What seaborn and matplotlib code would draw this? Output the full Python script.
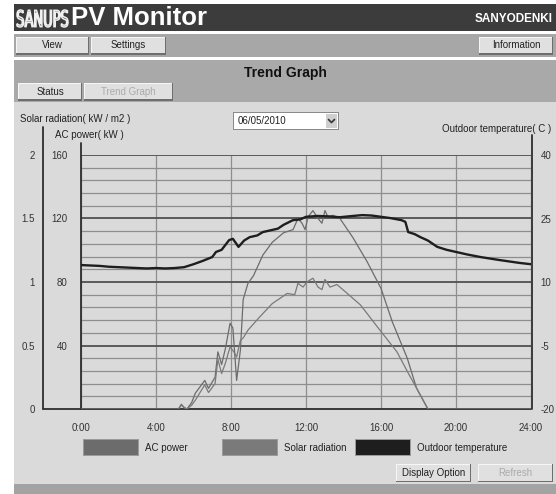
import numpy as np
import seaborn as sns
import matplotlib.pyplot as plt
from matplotlib.patches import Rectangle, PathPatch
from matplotlib.lines import Line2D
from matplotlib.textpath import TextPath
from matplotlib.font_manager import FontProperties
from matplotlib.transforms import Affine2D, IdentityTransform

W, H = 556, 494

# ---- data ----
ac_hours = [0, 5.2, 5.35, 5.5, 5.65, 5.9, 6.1, 6.35, 6.6, 6.8, 7.0, 7.15, 7.3, 7.5, 7.7,
            7.95, 8.1, 8.3, 8.5, 8.65, 8.9, 9.2, 9.7, 10.2, 10.8, 11.31, 11.57, 11.79,
            11.95, 12.11, 12.37, 12.64, 12.85, 13.01, 13.17, 13.44, 13.81, 14.5, 15.25,
            16.0, 16.6, 17.4, 17.9, 18.5, 24]
ac_kw = [0, 0, 3, 1, 0, 4, 10, 14, 18, 13, 17, 20, 36, 28, 38,
         54, 51, 18, 37, 69, 79, 84, 97, 105, 111, 113, 120, 117,
         113, 121, 125, 120, 117, 125, 121, 122, 120, 108, 93,
         76, 55, 32, 13, 0, 0]

solar_hours = [0, 5.2, 5.35, 5.5, 5.65, 5.9, 6.1, 6.35, 6.6, 6.8, 7.0, 7.15, 7.3, 7.5,
               7.7, 7.95, 8.15, 8.3, 8.5, 8.65, 8.9, 9.5, 10.2, 11.0, 11.4, 11.57, 11.84,
               12.05, 12.37, 12.64, 12.85, 13.01, 13.28, 13.65, 14.2, 14.9, 16.0, 16.85,
               17.5, 18.1, 18.5, 24]
solar_kw = [0, 0, 0.03, 0.01, 0, 0.03, 0.07, 0.13, 0.19, 0.13, 0.17, 0.2, 0.39, 0.28,
            0.36, 0.49, 0.45, 0.41, 0.54, 0.56, 0.62, 0.72, 0.83, 0.91, 0.9, 0.99, 0.96,
            1.0, 1.03, 0.96, 0.94, 1.02, 0.96, 0.98, 0.91, 0.82, 0.61, 0.45,
            0.27, 0.11, 0, 0]

temp_hours = [0, 0.5, 1, 1.5, 2, 2.5, 3, 3.5, 4, 4.5, 5, 5.5, 6, 6.5, 7, 7.2, 7.5, 7.9,
              8.1, 8.4, 8.7, 9, 9.4, 9.7, 10.2, 10.5, 10.8, 11.3, 11.7, 12, 12.6, 13.2,
              13.8, 14.5, 15, 15.5, 16, 16.5, 17.1, 17.3, 17.45, 17.8, 18.1, 18.5, 19,
              19.5, 20, 20.6, 21.3, 22.3, 23.4, 24]
temp_c = [14.0, 13.9, 13.8, 13.6, 13.5, 13.4, 13.3, 13.2, 13.3, 13.2, 13.3, 13.5, 14.2,
          15.0, 15.9, 17.1, 17.6, 19.9, 20.2, 18.3, 19.8, 20.6, 21.0, 21.8, 22.3, 22.6,
          23.5, 24.6, 24.8, 25.4, 25.6, 25.5, 25.3, 25.6, 25.8, 25.7, 25.4, 25.1, 24.6,
          24.2, 21.8, 21.3, 20.6, 19.8, 18.3, 17.6, 17.1, 16.5, 15.9, 15.2, 14.5, 14.2]

x_ticks = [0, 4, 8, 12, 16, 20, 24]
x_labels = ["0:00", "4:00", "8:00", "12:00", "16:00", "20:00", "24:00"]
ac_ticks = [40, 80, 120, 160]
solar_ticks = [0, 0.5, 1, 1.5, 2]
solar_labels = ["0", "0.5", "1", "1.5", "2"]
temp_ticks = [-20, -5, 10, 25, 40]
temp_labels = ["-20", "-5", "10", "25", "40"]

series_names = ["AC power", "Solar radiation", "Outdoor temperature"]
series_colors = ["#6c6c6c", "#7a7a7a", "#1e1e1e"]

sns.set_theme(style="white")
plt.rcParams["font.family"] = ["Liberation Sans", "DejaVu Sans"]
plt.rcParams["axes.unicode_minus"] = False

fig = plt.figure(figsize=(W / 100, H / 100), dpi=100)
fig.patch.set_facecolor("white")


def box(x0, y0, x1, y1, color, z=-5):
    fig.add_artist(Rectangle((x0 / W, 1 - y1 / H), (x1 - x0) / W, (y1 - y0) / H,
                             transform=fig.transFigure, facecolor=color,
                             edgecolor="none", zorder=z))


def txt(x, y, s, **kw):
    kw.setdefault("fontsize", 7)
    kw.setdefault("color", "#222222")
    fig.text(x / W, 1 - y / H, s, **kw)


def button(x0, y0, x1, y1, label, enabled=True):
    box(x0, y0, x1, y1, "#6e6e6e", z=-4)
    box(x0, y0, x1 - 1.5, y1 - 1.5, "#f6f6f6", z=-3)
    box(x0 + 1, y0 + 1, x1 - 1.5, y1 - 1.5, "#e0e0e0", z=-2)
    txt((x0 + x1) / 2, (y0 + y1) / 2 - 0.5, label, ha="center", va="center",
        color="#222222" if enabled else "#ababab")


# ---- page chrome ----
box(14, 4, 556, 31, "#3c3c3c")
box(14, 34, 556, 57, "#a7a7a7")
box(14, 60, 556, 102, "#a9a9a9")
box(14, 102, 556, 484, "#dadada")
box(14, 484, 556, 494, "#a3a3a3")

logo = TextPath((0, 0), "SANUPS", size=20,
                prop=FontProperties(family="Liberation Sans Narrow"))
lb = logo.get_extents()
sx = 51 / lb.width
sy = 17 / lb.height
logo_tr = Affine2D().translate(-lb.x0, -lb.y0).scale(sx, sy).translate(17, H - 27)
fig.add_artist(PathPatch(logo_tr.transform_path(logo), transform=IdentityTransform(),
                         facecolor="#3c3c3c", edgecolor="#f0f0f0", lw=1.1, zorder=4))
txt(71, 18, "PV Monitor", fontsize=18.5, fontweight="bold", color="white", va="center")
txt(553, 19, "SANYODENKI", fontsize=8.5, fontweight="bold", color="white",
    ha="right", va="center")

button(16, 37, 89, 55, "View")
button(91, 37, 166, 55, "Settings")
button(479, 37, 553, 55, "Information")
txt(285, 73, "Trend Graph", fontsize=10, fontweight="bold", ha="center", va="center",
    color="#111111")
button(18, 83, 82, 101, "Status")
button(84, 83, 173, 101, "Trend Graph", enabled=False)

# date selector
box(233, 112, 339, 130, "#8a8a8a", z=-1)
box(234, 113, 338, 129, "white", z=0)
box(326, 114, 337, 128, "#cfcfcf", z=1)
txt(238, 121.5, "06/05/2010", va="center")
fig.add_artist(Line2D([328.5 / W, 331.5 / W, 334.5 / W],
                      [1 - 119.5 / H, 1 - 122.5 / H, 1 - 119.5 / H],
                      transform=fig.transFigure, color="#333333", lw=1.2, zorder=5))

txt(20, 119, "Solar radiation( kW / m2 )", va="center")
txt(55, 135, "AC power( kW )", va="center")
txt(551, 129, "Outdoor temperature( C )", va="center", ha="right")

# ---- chart ----
ax = fig.add_axes([81 / W, 1 - 409 / H, 450 / W, 254 / H])
ax.set_facecolor("#dadada")
ax_sol = ax.twinx()
ax_tmp = ax.twinx()

sns.lineplot(x=ac_hours, y=ac_kw, ax=ax, color=series_colors[0], lw=0.9)
sns.lineplot(x=solar_hours, y=solar_kw, ax=ax_sol, color=series_colors[1], lw=0.9)
sns.lineplot(x=temp_hours, y=temp_c, ax=ax_tmp, color=series_colors[2], lw=1.7)

ax.set_xlim(0, 24)
ax.set_ylim(0, 160)
ax_sol.set_ylim(0, 2)
ax_tmp.set_ylim(-20, 40)

ax.set_xticks(x_ticks, x_labels)
ax.set_yticks(ac_ticks)
ax.set_yticks(np.arange(0, 161, 8), minor=True)
ax.yaxis.grid(True, which="minor", color="#8e8e8e", lw=0.9)
ax.yaxis.grid(True, which="major", color="#505050", lw=1.3)
ax.xaxis.grid(True, color="#8e8e8e", lw=0.9)
ax.tick_params(axis="both", which="both", length=0, labelsize=7, colors="#333333")
ax.tick_params(axis="y", pad=10)
ax.tick_params(axis="x", pad=10)

ax_sol.yaxis.tick_left()
ax_sol.spines["left"].set_position(("axes", -38 / 450))
ax_sol.set_yticks(solar_ticks, solar_labels)
ax_sol.tick_params(length=0, labelsize=7, colors="#333333", pad=6)

ax_tmp.set_yticks(temp_ticks, temp_labels)
ax_tmp.tick_params(length=0, labelsize=7, colors="#333333", pad=7)

for a in (ax, ax_sol, ax_tmp):
    a.set_xlabel("")
    a.set_ylabel("")
    for s in a.spines.values():
        s.set_visible(False)

axis_lines = [
    ([-38 / 450, -38 / 450], [0, 1 + 28 / 254]),
    ([0, 0], [0, 1 + 12 / 254]),
    ([1.002, 1.002], [0, 1 + 20 / 254]),
    ([-38 / 450, 1.0], [0, 0]),
]
for xs, ys in axis_lines:
    ax.plot(xs, ys, transform=ax.transAxes, clip_on=False, color="#2e2e2e", lw=1.3)

# ---- legend strip ----
legend_x = [83, 222, 355]
for lx, name, col in zip(legend_x, series_names, series_colors):
    box(lx, 439, lx + 56, 456, "#9a9a9a", z=-1)
    box(lx + 1, 440, lx + 55, 455, col, z=0)
    txt(lx + 62, 447.5, name, va="center")

button(396, 464, 471, 482, "Display Option")
button(478, 464, 553, 482, "Refresh", enabled=False)

fig.savefig("out.png", dpi=100)
